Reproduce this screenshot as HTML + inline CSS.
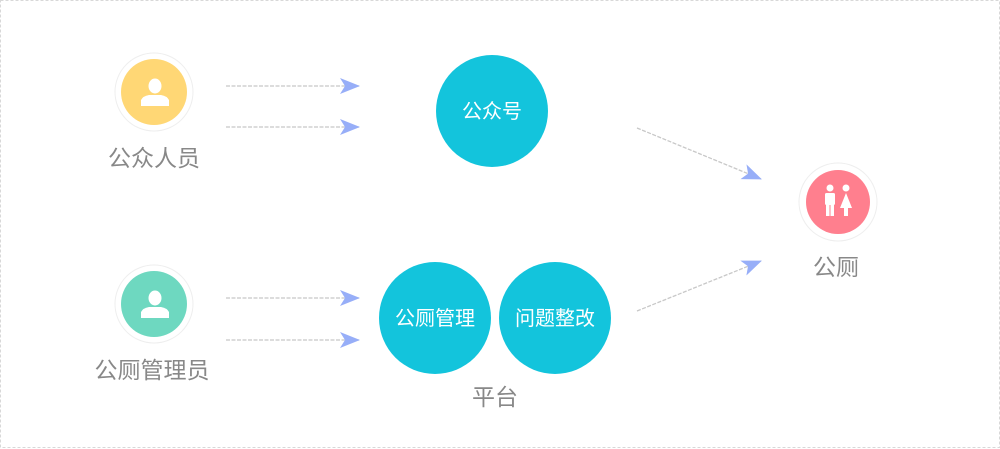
<!DOCTYPE html>
<html><head><meta charset="utf-8"><style>
html,body{margin:0;padding:0;background:#fff;}
svg{display:block;}
text{font-family:"Liberation Sans","Noto Sans CJK SC",sans-serif;}
</style></head><body>
<svg width="1000" height="449" viewBox="0 0 1000 449">
<rect x="0.5" y="0.5" width="999" height="447" fill="#fff" stroke="#d8d8d8" stroke-dasharray="3,2"/>
<defs>
<marker id="a" viewBox="0 0 20 16" refX="19" refY="8" markerWidth="20" markerHeight="16" markerUnits="userSpaceOnUse" orient="auto">
<path d="M0,0 L20,8 L0,16 L5,8 Z" fill="#97aef8"/></marker>
</defs>
<g stroke="#c8c8c8" stroke-width="1.3" stroke-dasharray="4,1.5" fill="none" marker-end="url(#a)">
<line x1="226" y1="86" x2="359" y2="86"/>
<line x1="226" y1="127" x2="359" y2="127"/>
<line x1="226" y1="298" x2="359" y2="298"/>
<line x1="226" y1="340" x2="359" y2="340"/>
<line x1="637" y1="128" x2="761" y2="179"/>
<line x1="637" y1="311" x2="761" y2="261"/>
</g>
<circle cx="154" cy="92" r="39" fill="#fff" stroke="#eee"/>
<circle cx="154" cy="92" r="33" fill="#ffd775"/>
<g fill="#fff"><ellipse cx="155" cy="86" rx="6.5" ry="7.5"/><path d="M141,106 L141,100 Q143,96 149,95 L161,95 Q167,96 169,100 L169,106 Z"/></g>
<text x="154" y="166" font-size="23" fill="#888" text-anchor="middle">公众人员</text>
<circle cx="154" cy="304" r="39" fill="#fff" stroke="#eee"/>
<circle cx="154" cy="304" r="33" fill="#6ed8c0"/>
<g fill="#fff"><ellipse cx="155" cy="298" rx="6.5" ry="7.5"/><path d="M141,318 L141,312 Q143,308 149,307 L161,307 Q167,308 169,312 L169,318 Z"/></g>
<text x="152" y="378" font-size="23" fill="#888" text-anchor="middle">公厕管理员</text>
<circle cx="492" cy="111" r="56" fill="#13c4dc"/>
<text x="492" y="118" font-size="20" fill="#fff" text-anchor="middle">公众号</text>
<circle cx="435" cy="318" r="56" fill="#13c4dc"/>
<text x="435" y="325" font-size="20" fill="#fff" text-anchor="middle">公厕管理</text>
<circle cx="555" cy="318" r="56" fill="#13c4dc"/>
<text x="555" y="325" font-size="20" fill="#fff" text-anchor="middle">问题整改</text>
<text x="495" y="405" font-size="23" fill="#888" text-anchor="middle">平台</text>
<circle cx="838" cy="202" r="39" fill="#fff" stroke="#eee"/>
<circle cx="838" cy="202" r="32" fill="#ff7f8e"/>
<g fill="#fff">
<circle cx="830" cy="188" r="3.5"/><rect x="825" y="193" width="10" height="12" rx="1.5"/><rect x="826" y="204" width="3.5" height="12"/><rect x="830.5" y="204" width="3.5" height="12"/>
<circle cx="846" cy="188" r="3.5"/><path d="M846,193 L852,208 L840,208 Z"/><rect x="844" y="207" width="4" height="9"/>
</g>
<text x="836" y="275" font-size="23" fill="#888" text-anchor="middle">公厕</text>
</svg>
</body></html>
